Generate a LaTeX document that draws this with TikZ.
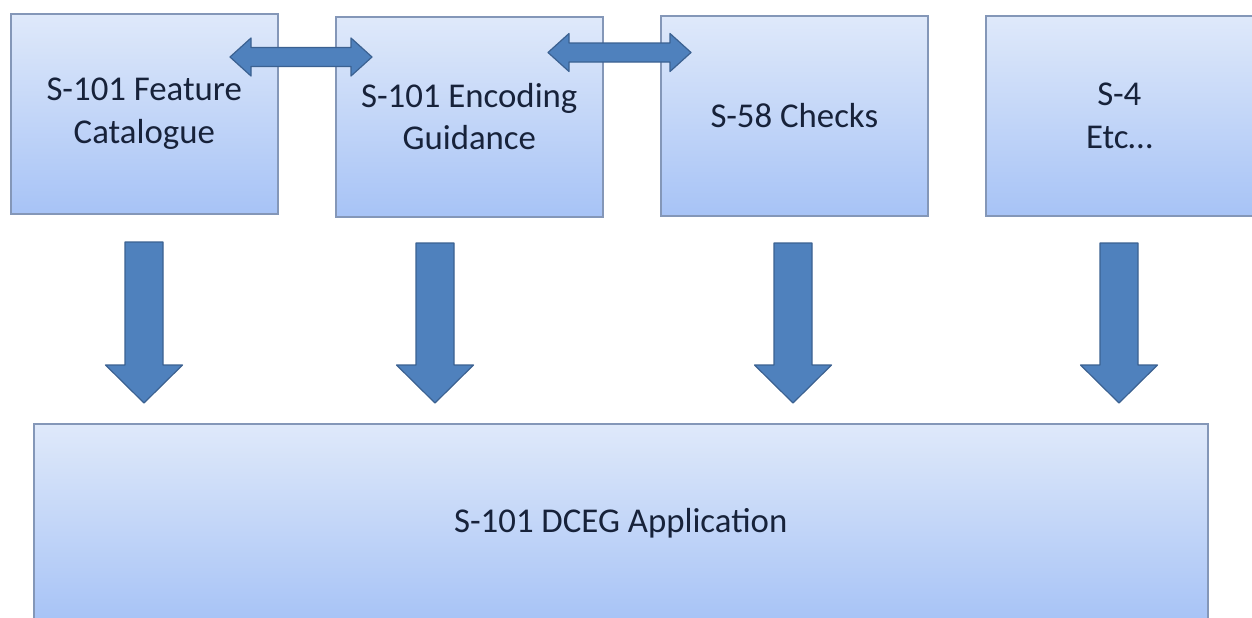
\documentclass[tikz,border=0pt]{standalone}
\usepackage{fontspec}
\setmainfont{Carlito}
\usetikzlibrary{calc,shadows}
\definecolor{boxtop}{HTML}{DFE9FA}
\definecolor{boxbot}{HTML}{A7C3F6}
\definecolor{boxline}{HTML}{8497B8}
\definecolor{arrfill}{HTML}{4F81BD}
\definecolor{arrline}{HTML}{3B6191}
\definecolor{txt}{HTML}{17223A}
% block arrow pointing down from a top-centre coordinate to the application box
\newcommand\downarr[1]{%
  \draw[blkarr] ($(#1)+(-19,0)$) -- ($(#1)+(19,0)$) -- ($(#1 |- app.north)+(19,-58)$)
    -- ($(#1 |- app.north)+(38.5,-58)$) -- ($(#1 |- app.north)+(0,-20)$)
    -- ($(#1 |- app.north)+(-38.5,-58)$) -- ($(#1 |- app.north)+(-19,-58)$) -- cycle;}
% block arrow with two heads between two tip coordinates
\newcommand\twoway[2]{%
  \draw[blkarr] (#1) -- ($(#1)+(21,-19)$) -- ($(#1)+(21,-9.5)$) -- ($(#2)+(-21,-9.5)$)
    -- ($(#2)+(-21,-19)$) -- (#2) -- ($(#2)+(-21,19)$) -- ($(#2)+(-21,9.5)$)
    -- ($(#1)+(21,9.5)$) -- ($(#1)+(21,19)$) -- cycle;}
\begin{document}
\begin{tikzpicture}[x=.5pt,y=-.5pt,
    blk/.style={draw=boxline,line width=.8pt,top color=boxtop,bottom color=boxbot,
      minimum width=133.5pt,minimum height=100pt,inner sep=0pt,anchor=north west,
      align=center,text=txt,font=\fontsize{17.4}{21.2}\selectfont,
      drop shadow={shadow xshift=.8pt,shadow yshift=-.8pt,opacity=.3,fill=black!60}},
    blkarr/.style={fill=arrfill,draw=arrline,line width=.6pt,line join=round}]
  \useasboundingbox (0,0) rectangle (1252,617);
  \begin{scope}
    \clip (0,0) rectangle (1252,617);
    \node[blk] (fc) at (10,13) {S-101 Feature\\Catalogue};
    \node[blk] (eg) at (335,16) {S-101 Encoding\\Guidance};
    \node[blk] (sc) at (660,15) {S-58 Checks};
    \node[blk] (etc) at (985,15) {S-4\\Etc…};
    \node[blk,minimum width=587pt,minimum height=99pt] (app) at (33,423) {S-101 DCEG Application};
    %\draw (0,0) rectangle (1252,617);
    \coordinate (l1) at (230,57);
    \coordinate (r1) at (372,57);
    \coordinate (l2) at (548,52.5);
    \coordinate (r2) at (691,52.5);
    \twoway{l1}{r1}
    \twoway{l2}{r2}
    \coordinate (t1) at (144,242);
    \coordinate (t2) at (435,243);
    \coordinate (t3) at (793,243);
    \coordinate (t4) at (1119,243);
    \foreach \t in {t1,t2,t3,t4} {\downarr{\t}}
  \end{scope}
\end{tikzpicture}
\end{document}
